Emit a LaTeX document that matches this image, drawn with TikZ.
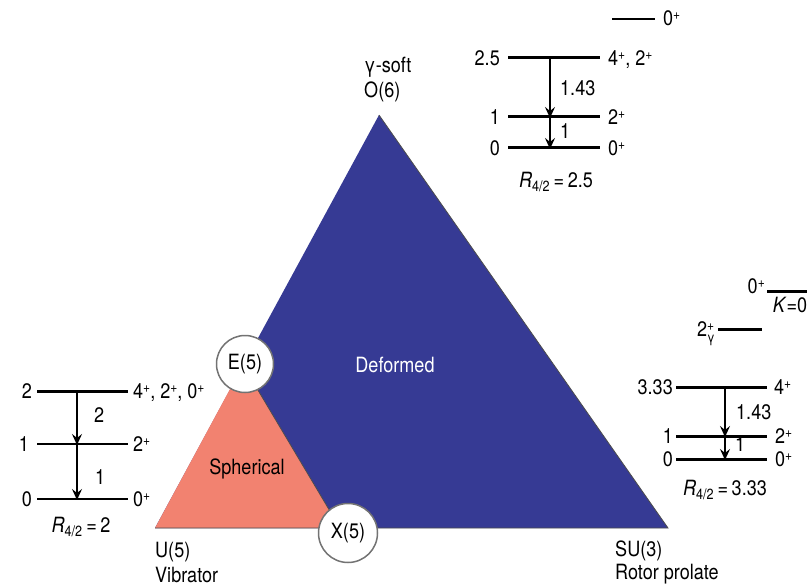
\documentclass[tikz,border=0pt]{standalone}
\usepackage{fontspec}
\setmainfont[FakeStretch=0.86]{TeX Gyre Heros}
\usetikzlibrary{arrows.meta}
\definecolor{deformblue}{RGB}{54,58,148}
\definecolor{spherred}{RGB}{242,130,112}
\newcommand{\parity}{\raisebox{6pt}{\fontsize{14}{14}\selectfont +}}

\begin{document}
\begin{tikzpicture}[x=1pt,y=-1pt,
  every node/.style={font=\fontsize{21}{23}\selectfont},
  lbl/.style={inner sep=0pt,text height=15pt,text depth=0pt},
  lvl/.style={line width=3pt},
  lvlthin/.style={line width=2pt},
  trans/.style={line width=2pt,-{Stealth[length=11pt,width=10pt,inset=4pt]},shorten >=-1pt},
  ring/.style={circle,draw=black!55,line width=1.5pt,fill=white,inner sep=0pt}]
\useasboundingbox (0,0) rectangle (807,586);
\coordinate (U) at (155,528);
\coordinate (S) at (668,528);
\coordinate (O) at (379,115);
\coordinate (E) at (243,365);
\coordinate (X) at (340,528);
\fill[deformblue] (U)--(S)--(O)--cycle;
\fill[spherred] (U)--(E)--(X)--cycle;
\draw[black!70,line width=0.8pt] (U)--(S)--(O);
\draw[black!70,line width=0.8pt] (E)--(X);
\node[ring,minimum size=57pt] (E5) at (245,364) {E(5)};
\node[ring,minimum size=59pt] (X5) at (348,533) {X(5)};
\node[lbl,text=white] (deform) at (395,365) {Deformed};
\node[lbl] (spher) at (247,467) {Spherical};
\node[lbl,anchor=west] (gsoft) at (364,65) {γ-soft};
\node[lbl,anchor=west] (o6) at (364,90) {O(6)};
\node[lbl,anchor=west] (u5) at (155,550) {U(5)};
\node[lbl,anchor=west] (vib) at (155,575) {Vibrator};
\node[lbl,anchor=west] (su3) at (615,549) {SU(3)};
\node[lbl,anchor=west] (rot) at (615,572) {Rotor prolate};

\coordinate (A3l) at (612,19);
\coordinate (A3r) at (655,19);
\coordinate (A2l) at (508,58);
\coordinate (A2r) at (600,58);
\coordinate (A1l) at (508,117);
\coordinate (A1r) at (600,117);
\coordinate (A0l) at (508,148);
\coordinate (A0r) at (600,148);
\coordinate (A2m) at (550,58);
\coordinate (A1m) at (550,117);
\coordinate (A0m) at (550,148);
\draw[lvlthin] (A3l)--(A3r);
\draw[lvl] (A2l)--(A2r);
\draw[lvl] (A1l)--(A1r);
\draw[lvl] (A0l)--(A0r);
\draw[trans] (A2m)--(A1m);
\draw[trans] (A1m)--(A0m);
\node[lbl,anchor=west] (A3j) at (663,18) {0\parity};
\node[lbl,anchor=east] (A2v) at (500,58) {2.5};
\node[lbl,anchor=west] (A2j) at (608,58) {4\parity, 2\parity};
\node[lbl,anchor=east] (A1v) at (500,117) {1};
\node[lbl,anchor=west] (A1j) at (608,117) {2\parity};
\node[lbl,anchor=east] (A0v) at (500,148) {0};
\node[lbl,anchor=west] (A0j) at (608,148) {0\parity};
\node[lbl,anchor=west] (A21) at (560,88) {1.43};
\node[lbl,anchor=west] (A10) at (560,131) {1};
\node[lbl] (Ra) at (556,180) {\textit{R}\textsubscript{4/2}\,=\,2.5};

\coordinate (BKl) at (767,291);
\coordinate (BKr) at (807,291);
\coordinate (Bgl) at (718,329);
\coordinate (Bgr) at (762,329);
\coordinate (B2l) at (676,387);
\coordinate (B2r) at (767,387);
\coordinate (B1l) at (676,436);
\coordinate (B1r) at (767,436);
\coordinate (B0l) at (676,459);
\coordinate (B0r) at (767,459);
\coordinate (B2m) at (725,387);
\coordinate (B1m) at (725,436);
\coordinate (B0m) at (725,459);
\draw[lvl] (BKl)--(BKr);
\draw[lvl] (Bgl)--(Bgr);
\draw[lvl] (B2l)--(B2r);
\draw[lvl] (B1l)--(B1r);
\draw[lvl] (B0l)--(B0r);
\draw[trans] (B2m)--(B1m);
\draw[trans] (B1m)--(B0m);
\node[lbl,anchor=east] (BKj) at (765,286) {0\parity};
\node[lbl] (BKk) at (790,305) {\textit{K}=0};
\node[lbl,anchor=east] (Bgj) at (715,329) {2\makebox[0pt][l]{\parity}\raisebox{-6pt}{\fontsize{14}{14}\selectfont γ}};
\node[lbl,anchor=east] (B2v) at (673,387) {3.33};
\node[lbl,anchor=west] (B2j) at (774,387) {4\parity};
\node[lbl,anchor=east] (B1v) at (673,436) {1};
\node[lbl,anchor=west] (B1j) at (775,436) {2\parity};
\node[lbl,anchor=east] (B0v) at (673,459) {0};
\node[lbl,anchor=west] (B0j) at (775,459) {0\parity};
\node[lbl,anchor=west] (B21) at (736,412) {1.43};
\node[lbl,anchor=west] (B10) at (735,444) {1};
\node[lbl] (Rb) at (725,488) {\textit{R}\textsubscript{4/2}\,=\,3.33};

\coordinate (C2l) at (37,391);
\coordinate (C2r) at (128,391);
\coordinate (C1l) at (37,444);
\coordinate (C1r) at (128,444);
\coordinate (C0l) at (37,499);
\coordinate (C0r) at (128,499);
\coordinate (C2m) at (77,391);
\coordinate (C1m) at (77,444);
\coordinate (C0m) at (77,499);
\draw[lvl] (C2l)--(C2r);
\draw[lvlthin] (C1l)--(C1r);
\draw[lvlthin] (C0l)--(C0r);
\draw[trans] (C2m)--(C1m);
\draw[trans] (C1m)--(C0m);
\node[lbl,anchor=east] (C2v) at (32,391) {2};
\node[lbl,anchor=west] (C2j) at (133,391) {4\parity, 2\parity, 0\parity};
\node[lbl,anchor=east] (C1v) at (29,444) {1};
\node[lbl,anchor=west] (C1j) at (133,444) {2\parity};
\node[lbl,anchor=east] (C0v) at (32,499) {0};
\node[lbl,anchor=west] (C0j) at (133,499) {0\parity};
\node[lbl,anchor=west] (C21) at (94,415) {2};
\node[lbl,anchor=west] (C10) at (95,477) {1};
\node[lbl] (Rc) at (81,525) {\textit{R}\textsubscript{4/2}\,=\,2};
\end{tikzpicture}
\end{document}
